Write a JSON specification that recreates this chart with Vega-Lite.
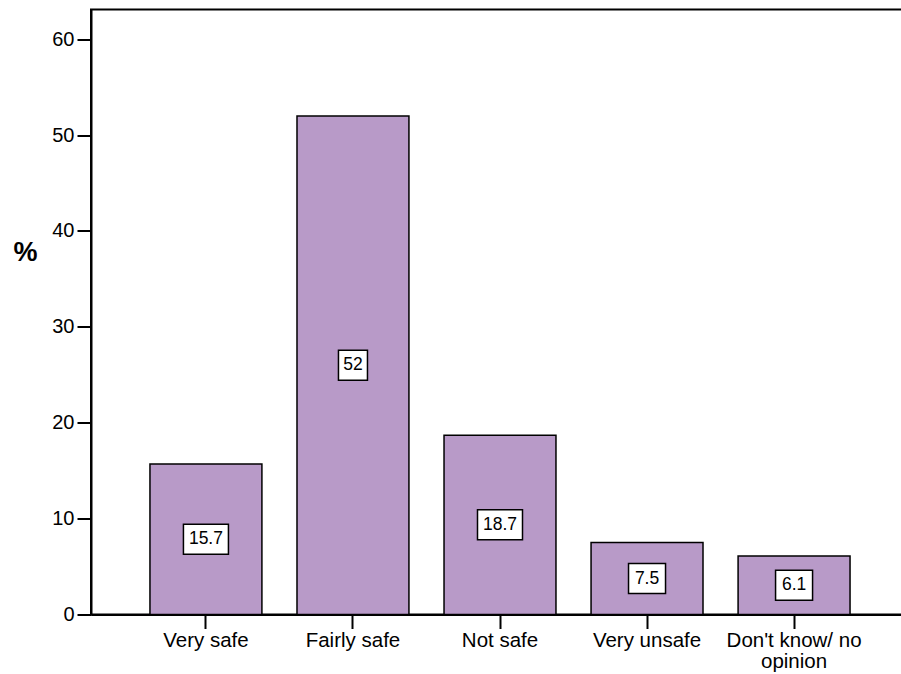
{
  "$schema": "https://vega.github.io/schema/vega-lite/v6.json",
  "width": 818,
  "height": 605,
  "autosize": "none",
  "padding": {"left": 91, "top": 9.5, "right": 0, "bottom": 59.5},
  "background": "white",
  "config": {
    "font": "Liberation Sans",
    "view": {"stroke": "black", "strokeWidth": 2}
  },
  "data": {
    "values": [
      {"response": "Very safe", "pct": 15.7},
      {"response": "Fairly safe", "pct": 52},
      {"response": "Not safe", "pct": 18.7},
      {"response": "Very unsafe", "pct": 7.5},
      {"response": "Don't know/ no opinion", "pct": 6.1}
    ]
  },
  "encoding": {
    "x": {
      "field": "response",
      "type": "nominal",
      "sort": null,
      "scale": {"paddingInner": 0.2386, "paddingOuter": 0.401},
      "axis": {
        "title": null,
        "labelAngle": 0,
        "labelFontSize": 20.5,
        "labelColor": "black",
        "labelPadding": 2,
        "labelBaseline": "top",
        "labelLineHeight": 21,
        "labelExpr": "datum.value === \"Don't know/ no opinion\" ? [\"Don't know/ no\", \"opinion\"] : datum.value",
        "domainColor": "black",
        "domainWidth": 2,
        "tickColor": "black",
        "tickWidth": 2,
        "tickSize": 14
      }
    }
  },
  "layer": [
    {
      "mark": {"type": "bar", "fill": "#b89ac8", "stroke": "black", "strokeWidth": 1.5},
      "encoding": {
        "y": {
          "field": "pct",
          "type": "quantitative",
          "title": "%",
          "scale": {"domain": [0, 63.1], "nice": false},
          "axis": {
            "values": [0, 10, 20, 30, 40, 50, 60],
            "grid": false,
            "title": "%",
            "titleAngle": 0,
            "titleFontSize": 27,
            "titleFontWeight": "bold",
            "titleColor": "black",
            "titleAlign": "center",
            "titleBaseline": "middle",
            "titleX": -66,
            "titleY": 243,
            "labelFontSize": 20,
            "labelColor": "black",
            "labelPadding": 3,
            "domainColor": "black",
            "domainWidth": 2,
            "tickColor": "black",
            "tickWidth": 2,
            "tickSize": 14
          }
        }
      }
    },
    {
      "transform": [
        {"calculate": "datum.pct / 2 - 1.565", "as": "boxLo"},
        {"calculate": "datum.pct / 2 + 1.565", "as": "boxHi"},
        {"calculate": "length(toString(datum.pct))", "as": "nchar"}
      ],
      "mark": {"type": "bar", "fill": "white", "stroke": "black", "strokeWidth": 1.5},
      "encoding": {
        "y": {"field": "boxLo", "type": "quantitative", "title": "%"},
        "y2": {"field": "boxHi"},
        "size": {
          "field": "nchar",
          "type": "quantitative",
          "scale": {"domain": [2, 4], "range": [29, 45]},
          "legend": null
        }
      }
    },
    {
      "transform": [{"calculate": "datum.pct / 2", "as": "mid"}],
      "mark": {"type": "text", "fontSize": 17.5, "color": "black", "baseline": "middle", "align": "center"},
      "encoding": {
        "y": {"field": "mid", "type": "quantitative", "title": "%"},
        "text": {"field": "pct", "type": "quantitative", "format": ".1~f"}
      }
    }
  ]
}
